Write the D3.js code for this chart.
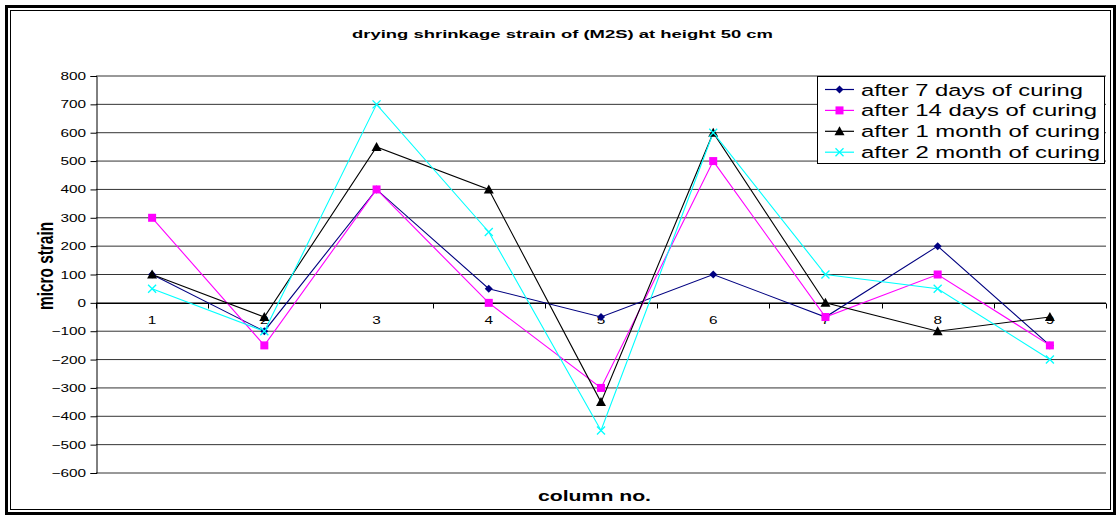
<!DOCTYPE html>
<html>
<head>
<meta charset="utf-8">
<script src="https://cdn.jsdelivr.net/npm/d3@7"></script>
<style>
  html, body { margin: 0; padding: 0; background: #fff; }
  svg { display: block; font-family: "Liberation Sans", Arial, sans-serif; }
</style>
</head>
<body>
<svg id="chart" width="1120" height="518"></svg>
<script>
// Chart data
const columns = ["1", "2", "3", "4", "5", "6", "7", "8", "9"];
const yTicks = [800, 700, 600, 500, 400, 300, 200, 100, 0, -100, -200, -300, -400, -500, -600];
const seriesNames = [
  "after 7 days of curing",
  "after 14 days of curing",
  "after 1 month of curing",
  "after 2 month of curing"
];
const days7   = [100, -100, 400, 50, -50, 100, -50, 200, -150];
const days14  = [300, -150, 400, 0, -300, 500, -50, 100, -150];
const month1  = [100, -50, 550, 400, -350, 600, 0, -100, -50];
const month2  = [50, -100, 700, 250, -450, 600, 100, 50, -200];

const seriesValues = [days7, days14, month1, month2];
const colors = ["#000080", "#ff00ff", "#000000", "#00ffff"];
const markers = ["diamond", "square", "triangle", "cross"];

// Text in this chart is drawn wide: glyphs are stretched horizontally
const SX = 1.42;

const svg = d3.select("#chart");

// Outer double frame
svg.append("rect").attr("x", 6.5).attr("y", 6.5).attr("width", 1108).attr("height", 507)
  .attr("fill", "none").attr("stroke", "#000").attr("stroke-width", 3);
svg.append("rect").attr("x", 10.5).attr("y", 10.5).attr("width", 1100).attr("height", 499)
  .attr("fill", "none").attr("stroke", "#000").attr("stroke-width", 1);

const plot = { left: 96, right: 1106, top: 76, bottom: 473 };

const x = d3.scaleBand().domain(columns).range([plot.left, plot.right]);
const y = d3.scaleLinear().domain([-600, 800]).range([plot.bottom, plot.top]);
const cx = c => x(c) + x.bandwidth() / 2;

// Horizontal gridlines
svg.append("g").selectAll("line").data(yTicks).join("line")
  .attr("x1", plot.left).attr("x2", plot.right)
  .attr("y1", d => y(d)).attr("y2", d => y(d))
  .attr("stroke", "#333").attr("stroke-width", 1);

// Y axis line and ticks
const yAxis = svg.append("g")
  .attr("transform", `translate(${plot.left + 0.5},0)`)
  .call(d3.axisLeft(y).tickValues(yTicks).tickSize(6).tickFormat(""));
yAxis.select(".domain").attr("stroke", "#000");
yAxis.selectAll(".tick line").attr("stroke", "#000");

// Y tick labels (stretched)
svg.append("g").selectAll("g").data(yTicks).join("g")
  .attr("transform", d => `translate(86,${y(d) + 4}) scale(${SX},1)`)
  .append("text").attr("text-anchor", "end").attr("font-size", 10.8).attr("fill", "#000")
  .text(d => d3.format("d")(d));

// X axis along the zero line, ticks at column boundaries
const zeroY = Math.round(y(0)) + 0.5;
svg.append("line").attr("x1", plot.left).attr("x2", plot.right)
  .attr("y1", zeroY).attr("y2", zeroY).attr("stroke", "#000");
const bounds = d3.range(columns.length + 1).map(i => plot.left + i * x.bandwidth());
svg.append("g").selectAll("line").data(bounds).join("line")
  .attr("x1", d => Math.round(d) + 0.5).attr("x2", d => Math.round(d) + 0.5)
  .attr("y1", zeroY).attr("y2", zeroY + 5).attr("stroke", "#000");
svg.append("g").selectAll("g").data(columns).join("g")
  .attr("transform", d => `translate(${cx(d)},${zeroY + 20}) scale(${SX},1)`)
  .append("text").attr("text-anchor", "middle").attr("font-size", 10.8).attr("fill", "#000")
  .text(d => d);

// Lines
const line = d3.line().x((d, i) => cx(columns[i])).y(d => y(d));
seriesValues.forEach((vals, s) => {
  svg.append("path").datum(vals).attr("d", line)
    .attr("fill", "none").attr("stroke", colors[s]).attr("stroke-width", 1.1);
});

// Marker drawing
function drawMarker(g, type, color, px, py) {
  if (type === "diamond") {
    g.append("path").attr("d", `M${px},${py - 4}L${px + 4},${py}L${px},${py + 4}L${px - 4},${py}Z`)
      .attr("fill", color);
  } else if (type === "square") {
    g.append("rect").attr("x", px - 4).attr("y", py - 4).attr("width", 8).attr("height", 8)
      .attr("fill", color);
  } else if (type === "triangle") {
    g.append("path").attr("d", `M${px},${py - 5}L${px + 5},${py + 4}L${px - 5},${py + 4}Z`)
      .attr("fill", color);
  } else {
    g.append("path").attr("d", `M${px - 4},${py - 4}L${px + 4},${py + 4}M${px - 4},${py + 4}L${px + 4},${py - 4}`)
      .attr("stroke", color).attr("stroke-width", 1.3).attr("fill", "none");
  }
}
seriesValues.forEach((vals, s) => {
  const g = svg.append("g");
  vals.forEach((v, i) => drawMarker(g, markers[s], colors[s], cx(columns[i]), y(v)));
});

// Title
svg.append("text").attr("x", 352).attr("y", 37.5)
  .attr("font-size", 10.8).attr("font-weight", "bold").attr("fill", "#000")
  .attr("textLength", 421).attr("lengthAdjust", "spacingAndGlyphs")
  .text("drying shrinkage strain of (M2S) at height 50 cm");

// Axis titles
svg.append("text").attr("transform", `translate(53,266) scale(${SX},1) rotate(-90)`)
  .attr("text-anchor", "middle").attr("font-size", 15.4).attr("font-weight", "bold").attr("fill", "#000")
  .text("micro strain");
svg.append("text").attr("x", 538).attr("y", 501)
  .attr("font-size", 15).attr("font-weight", "bold").attr("fill", "#000")
  .attr("textLength", 113).attr("lengthAdjust", "spacingAndGlyphs")
  .text("column no.");

// Legend
const legendWidths = [222, 236, 239, 239];
const lg = svg.append("g");
lg.append("rect").attr("x", 817.5).attr("y", 76.5).attr("width", 287).attr("height", 87)
  .attr("fill", "#fff").attr("stroke", "#000").attr("stroke-width", 1);
seriesNames.forEach((name, s) => {
  const ly = 89.5 + s * 20.9;
  lg.append("line").attr("x1", 825).attr("x2", 854).attr("y1", ly).attr("y2", ly)
    .attr("stroke", colors[s]).attr("stroke-width", 1.2);
  drawMarker(lg, markers[s], colors[s], 839.5, ly);
  lg.append("text").attr("x", 861).attr("y", ly + 6)
    .attr("font-size", 16.8).attr("fill", "#000")
    .attr("textLength", legendWidths[s]).attr("lengthAdjust", "spacingAndGlyphs")
    .text(name);
});
</script>
</body>
</html>
